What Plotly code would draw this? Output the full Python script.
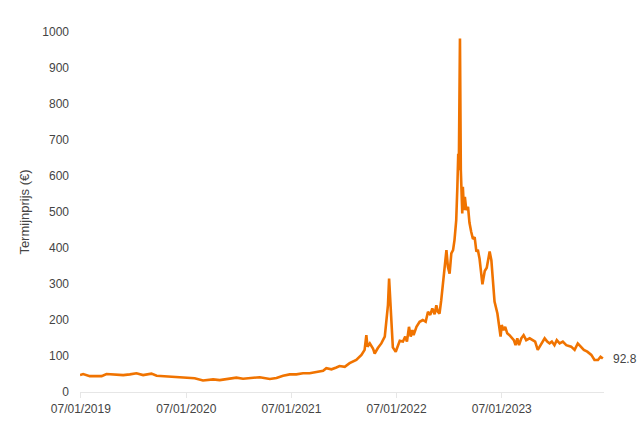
import plotly.graph_objects as go

dates = [
    "2019-06-28", "2019-07-09", "2019-08-01", "2019-08-24", "2019-09-11", "2019-09-28",
    "2019-10-21", "2019-11-25", "2019-12-18", "2020-01-10", "2020-02-02", "2020-03-02",
    "2020-03-20", "2020-04-11", "2020-05-05", "2020-05-28", "2020-06-20", "2020-07-07",
    "2020-07-30", "2020-08-28", "2020-09-09", "2020-10-02", "2020-10-25", "2020-11-29",
    "2020-12-22", "2021-01-14", "2021-02-06", "2021-03-13", "2021-04-17", "2021-05-10",
    "2021-06-02", "2021-06-25", "2021-07-18", "2021-08-10", "2021-09-02", "2021-09-26",
    "2021-10-19", "2021-10-30", "2021-11-17", "2021-12-04", "2021-12-15", "2022-01-02",
    "2022-01-19", "2022-02-11", "2022-03-01", "2022-03-12", "2022-03-18", "2022-03-22",
    "2022-03-30", "2022-04-10", "2022-04-16", "2022-04-27", "2022-05-09", "2022-05-21",
    "2022-05-26", "2022-06-01", "2022-06-05", "2022-06-11", "2022-06-14", "2022-06-18",
    "2022-06-28", "2022-07-06", "2022-07-12", "2022-07-23", "2022-07-31", "2022-08-06",
    "2022-08-13", "2022-08-19", "2022-08-25", "2022-08-29", "2022-09-08", "2022-09-19",
    "2022-09-30", "2022-10-10", "2022-10-18", "2022-10-26", "2022-11-02", "2022-11-10",
    "2022-11-16", "2022-11-21", "2022-11-27", "2022-12-03", "2022-12-09", "2022-12-15",
    "2022-12-21", "2022-12-26", "2023-01-01", "2023-01-07", "2023-01-13", "2023-01-18",
    "2023-01-24", "2023-01-28", "2023-01-31", "2023-02-02", "2023-02-06", "2023-02-09",
    "2023-02-14", "2023-02-16", "2023-02-20", "2023-02-23", "2023-02-28", "2023-03-06",
    "2023-03-11", "2023-03-17", "2023-03-23", "2023-03-29", "2023-04-04", "2023-04-09",
    "2023-04-15", "2023-04-25", "2023-05-03", "2023-05-10", "2023-05-20", "2023-05-26",
    "2023-05-31", "2023-06-06", "2023-06-16", "2023-06-20", "2023-06-27", "2023-07-01",
    "2023-07-07", "2023-07-13", "2023-07-20", "2023-07-28", "2023-08-05", "2023-08-12",
    "2023-08-18", "2023-08-24", "2023-08-30", "2023-09-07", "2023-09-15", "2023-09-24",
    "2023-10-06", "2023-10-17", "2023-10-25", "2023-11-03", "2023-11-15", "2023-11-27",
    "2023-12-06", "2023-12-14", "2023-12-22", "2023-12-31", "2024-01-08", "2024-01-18",
    "2024-01-29", "2024-02-10", "2024-02-27", "2024-03-10", "2024-03-21", "2024-03-31",
    "2024-04-11", "2024-04-23", "2024-05-07", "2024-05-18", "2024-05-30", "2024-06-08",
    "2024-06-16",
]

prices = [
    47, 50, 44, 45, 44, 50,
    48, 47, 49, 52, 47, 51,
    45, 44, 43, 41, 40, 41,
    38, 32, 33, 35, 33, 37,
    40, 37, 39, 41, 36, 39,
    45, 49, 49, 52, 52, 55,
    59, 66, 63, 68, 72, 70,
    80, 89, 103, 117, 158, 126,
    135, 121, 107, 122, 135, 154,
    200, 241, 315, 228, 190, 124,
    112, 130, 142, 140, 154, 140,
    181, 154, 172, 158, 181, 195,
    200, 195, 223, 214, 232, 216,
    241, 223, 218, 255, 301, 366,
    394, 348, 329, 385, 394, 422,
    477, 570, 662, 616, 982, 616,
    496, 570, 505, 542, 505, 514,
    470, 445, 425, 430, 390, 395,
    370, 299, 336, 345, 390, 366,
    301, 251, 218, 190, 154, 186,
    172, 181, 163, 158, 149, 144,
    130, 149, 130, 149, 158, 144,
    149, 144, 140, 117, 135, 149,
    140, 135, 140, 130, 144, 135,
    140, 130, 126, 117, 135, 126,
    117, 112, 103, 89, 89, 98,
    92.8,
]

tick_vals = ["2019-07-01", "2020-07-01", "2021-07-01", "2022-07-01", "2023-07-01"]
tick_text = ["07/01/2019", "07/01/2020", "07/01/2021", "07/01/2022", "07/01/2023"]
y_ticks = [0, 100, 200, 300, 400, 500, 600, 700, 800, 900, 1000]

font_family = "Liberation Sans, Arial, sans-serif"

fig = go.Figure()
fig.add_trace(go.Scatter(
    x=dates, y=prices, mode="lines",
    line=dict(color="#f07300", width=2.6),
    showlegend=False, hoverinfo="x+y",
))

fig.add_annotation(
    x=dates[-1], y=prices[-1], text=str(prices[-1]),
    showarrow=False, xanchor="left", yanchor="middle", xshift=8,
    font=dict(size=12, color="#444444", family=font_family),
)

fig.update_layout(
    width=640, height=427,
    margin=dict(l=80, r=36, t=32, b=35, autoexpand=False),
    paper_bgcolor="white", plot_bgcolor="white",
    font=dict(family=font_family, size=12, color="#444444"),
    xaxis=dict(
        type="date",
        range=["2019-06-28", "2024-06-20"],
        tickvals=tick_vals, ticktext=tick_text,
        showgrid=False, zeroline=False,
        showline=True, linecolor="#e6e6e6", linewidth=1,
        ticks="outside", ticklen=5, tickcolor="#e6e6e6",
        ticklabelstandoff=1,
        tickfont=dict(size=12, color="#444444"),
    ),
    yaxis=dict(
        range=[0, 1000],
        tickvals=y_ticks,
        showgrid=False, zeroline=False, showline=False,
        ticks="", ticklabelstandoff=10,
        title=dict(text="Termijnprijs (€)", standoff=9, font=dict(size=13, color="#444444")),
        tickfont=dict(size=12, color="#444444"),
    ),
)

# remove the default 8px page margin so the 640x427 figure fills the window
fig.write_html(
    "out.html",
    config={"displayModeBar": False},
    post_script="document.body.style.margin='0';document.body.style.overflow='hidden';",
)
